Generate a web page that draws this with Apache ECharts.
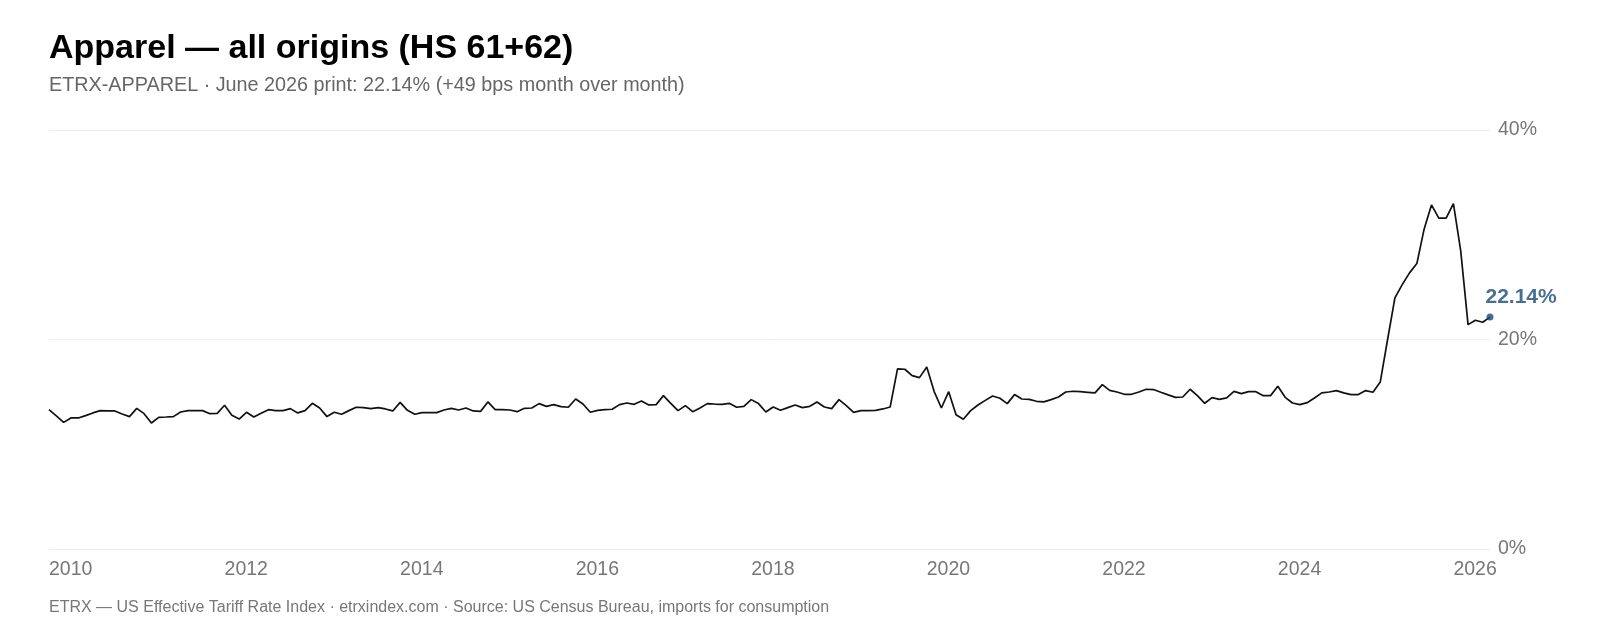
<!DOCTYPE html>
<html>
<head>
<meta charset="utf-8">
<title>Apparel — all origins (HS 61+62)</title>
<script src="https://cdn.jsdelivr.net/npm/echarts@6/dist/echarts.min.js"></script>
<style>
  html, body { margin: 0; padding: 0; background: #fff; }
  #chart { width: 1600px; height: 640px; }
</style>
</head>
<body>
<div id="chart"></div>
<script>
// monthly effective tariff rate, %, Jan 2010 .. Jun 2026 (one row per year)
const rate = [
  13.30, 12.70, 12.09, 12.51, 12.51, 12.73, 12.99, 13.21, 13.18, 13.18, 12.89, 12.64,
  13.43, 12.92, 12.03, 12.57, 12.60, 12.64, 13.08, 13.21, 13.21, 13.21, 12.92, 12.95,
  13.72, 12.76, 12.41, 13.05, 12.60, 12.95, 13.30, 13.21, 13.21, 13.40, 12.99, 13.21,
  13.91, 13.46, 12.64, 13.05, 12.86, 13.21, 13.53, 13.50, 13.40, 13.50, 13.37, 13.18,
  14.00, 13.24, 12.86, 13.02, 13.02, 13.02, 13.27, 13.43, 13.27, 13.46, 13.18, 13.14,
  14.04, 13.30, 13.30, 13.27, 13.11, 13.43, 13.46, 13.88, 13.62, 13.78, 13.59, 13.53,
  14.32, 13.84, 13.05, 13.24, 13.30, 13.34, 13.78, 13.94, 13.81, 14.13, 13.75, 13.78,
  14.64, 13.91, 13.21, 13.69, 13.11, 13.46, 13.88, 13.84, 13.81, 13.91, 13.53, 13.62,
  14.26, 13.88, 13.08, 13.56, 13.24, 13.50, 13.75, 13.50, 13.62, 14.04, 13.56, 13.40,
  14.26, 13.69, 13.05, 13.21, 13.21, 13.24, 13.37, 13.56, 17.19, 17.16, 16.55, 16.36,
  17.38, 15.05, 13.46, 15.02, 12.82, 12.38, 13.21, 13.75, 14.19, 14.61, 14.39, 13.88,
  14.74, 14.32, 14.29, 14.10, 14.04, 14.26, 14.51, 14.99, 15.06, 15.02, 14.96, 14.90,
  15.69, 15.15, 14.99, 14.77, 14.77, 14.99, 15.25, 15.22, 14.96, 14.71, 14.48, 14.51,
  15.25, 14.64, 13.91, 14.45, 14.29, 14.42, 15.05, 14.83, 15.02, 15.02, 14.64, 14.64,
  15.53, 14.48, 13.94, 13.78, 13.97, 14.42, 14.90, 14.99, 15.12, 14.90, 14.74, 14.74,
  15.12, 14.96, 15.95, 20.00, 23.97, 25.24, 26.36, 27.25, 30.56, 32.85, 31.58, 31.58,
  32.98, 28.43, 21.42, 21.84, 21.65, 22.14
]
const firstYear = 2010
const yTicks = [0, 20, 40]

// month categories "YYYY-MM"
const months = []
for (let i = 0; i < rate.length; i++) {
  const y = firstYear + Math.floor(i / 12)
  const m = (i % 12) + 1
  months.push(y + '-' + (m < 10 ? '0' + m : m))
}
const lastMonth = months[months.length - 1]
const lastValue = rate[rate.length - 1]

const font = '"Liberation Sans", Arial, Helvetica, sans-serif'
const blue = '#1b4a78'

const chart = echarts.init(document.getElementById('chart'), null, {renderer: 'canvas'})
chart.setOption({
  animation: false,
  backgroundColor: '#fff',
  textStyle: {fontFamily: font},
  title: [
    {
      text: 'Apparel — all origins (HS 61+62)',
      left: 44, top: 27,
      textStyle: {fontFamily: font, fontSize: 34, fontWeight: 'bold', color: '#000'}
    },
    {
      text: 'ETRX-APPAREL · June 2026 print: 22.14% (+49 bps month over month)',
      left: 44, top: 71,
      textStyle: {fontFamily: font, fontSize: 19.8, fontWeight: 'normal', color: '#666'}
    },
    {
      text: 'ETRX — US Effective Tariff Rate Index · etrxindex.com · Source: US Census Bureau, imports for consumption',
      left: 44, top: 595,
      textStyle: {fontFamily: font, fontSize: 16, fontWeight: 'normal', color: '#777'}
    }
  ],
  grid: {left: 49, right: 110, top: 130, bottom: 91, containLabel: false},
  xAxis: {
    type: 'category',
    data: months,
    boundaryGap: false,
    axisLine: {show: false},
    axisTick: {show: false},
    splitLine: {show: false},
    axisLabel: {
      interval: (idx, val) => val.endsWith('-01') && parseInt(val) % 2 === 0,
      formatter: val => val.slice(0, 4),
      align: 'left',
      margin: 11,
      color: '#777',
      fontSize: 19.5,
      fontFamily: font
    }
  },
  yAxis: {
    type: 'value',
    position: 'right',
    min: yTicks[0],
    max: yTicks[yTicks.length - 1],
    interval: 20,
    axisLine: {show: false},
    axisTick: {show: false},
    splitLine: {lineStyle: {color: '#eeeeee', width: 1}},
    axisLabel: {
      formatter: '{value}%',
      margin: 8,
      color: '#777',
      fontSize: 19.5,
      fontFamily: font
    }
  },
  series: [
    {
      type: 'line',
      data: rate,
      showSymbol: false,
      symbol: 'none',
      lineStyle: {color: '#111', width: 1.7},
      z: 2
    },
    {
      type: 'scatter',
      data: [[lastMonth, lastValue]],
      symbol: 'circle',
      symbolSize: 7,
      itemStyle: {color: blue},
      label: {
        show: true,
        formatter: lastValue.toFixed(2) + '%',
        position: [-1, -16],
        align: 'left',
        verticalAlign: 'middle',
        color: blue,
        fontSize: 21,
        fontWeight: 'bold',
        fontFamily: font
      },
      z: 3
    }
  ]
})
</script>
</body>
</html>
